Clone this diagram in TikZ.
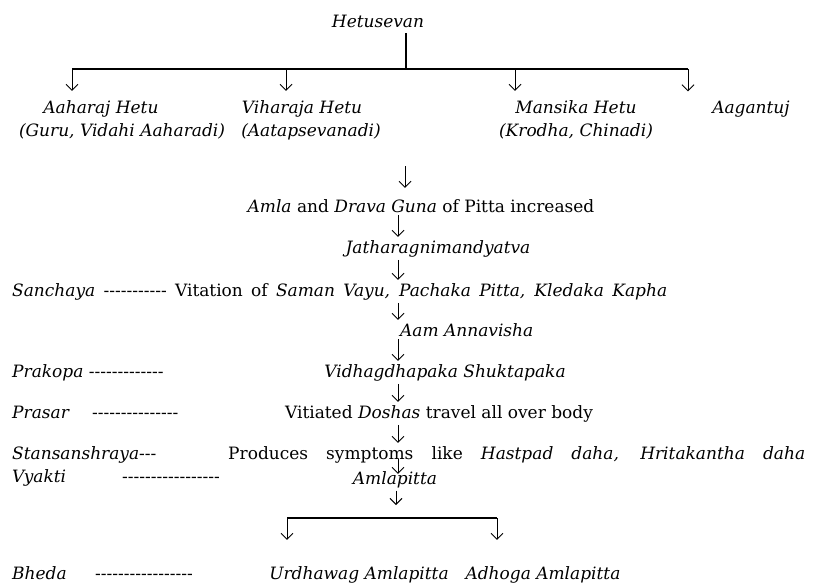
\documentclass[tikz,border=0pt]{standalone}
\usepackage{fontspec}
\setmainfont{DejaVu Serif}[Ligatures=TeXOff]
\usetikzlibrary{arrows.meta}
\tikzset{
  txt/.style={inner sep=0pt, anchor=base, font=\fontsize{17}{20}\selectfont},
  lft/.style={txt, anchor=base west},
  arr/.style={-{Straight Barb[length=6pt,width=12pt]}, line width=0.9pt},
  flow/.style={arr, shorten <=3pt, shorten >=3pt},
  bar/.style={line width=1.1pt}
}
\begin{document}
\begin{tikzpicture}[x=1pt, y=-1pt]
  \useasboundingbox (0,0) rectangle (817,587);

  % causes
  \node[txt] (hetu) at (378,27) {\textit{Hetusevan}};
  \coordinate (top) at (406,69);
  \coordinate (b1) at (72,69);
  \coordinate (b2) at (286,69);
  \coordinate (b3) at (515,69);
  \coordinate (b4) at (688,69);
  \draw[bar, shorten <=6pt] (hetu.south -| top) -- (top);
  \draw[bar] (b1) -- (b4);

  \node[txt] (aahar) at (101,113) {\textit{Aaharaj Hetu}};
  \node[txt] (vihar) at (302,113) {\textit{Viharaja Hetu}};
  \node[txt] (mans) at (576,113) {\textit{Mansika Hetu}};
  \node[txt] (aagan) at (751,113) {\textit{Aagantuj}};
  \node[txt] (guru) at (122,136) {\textit{(Guru, Vidahi Aaharadi)}};
  \node[txt] (aatap) at (311,136) {\textit{(Aatapsevanadi)}};
  \node[txt] (krodh) at (576,136) {\textit{(Krodha, Chinadi)}};

  \draw[arr, shorten >=9pt] (b1) -- (b1 |- aahar.north);
  \draw[arr, shorten >=9pt] (b2) -- (b2 |- vihar.north);
  \draw[arr, shorten >=9pt] (b3) -- (b3 |- mans.north);
  \draw[arr, shorten >=9pt] (b4) -- (b4 |- aagan.north);

  % main chain
  \coordinate (mid) at (398,0);
  \coordinate (c0) at (405,166);
  \node[txt] (amla) at (421,212) {\textit{Amla} and \textit{Drava Guna} of Pitta increased};
  \node[txt] (jath) at (438,253) {\textit{Jatharagnimandyatva}};
  \node[lft] (sanch) at (12,296) {\makebox[655pt][s]{\textit{Sanchaya} ----------- Vitation of \textit{Saman Vayu, Pachaka Pitta, Kledaka Kapha}}};
  \node[lft] (aam) at (400,336) {\textit{Aam Annavisha}};
  \node[lft] (prak) at (12,377) {\textit{Prakopa} -------------};
  \node[txt] (vidh) at (445,377) {\textit{Vidhagdhapaka Shuktapaka}};
  \node[lft] (pras) at (12,418) {\makebox[80pt][l]{\textit{Prasar}}---------------};
  \node[txt] (vit) at (439,418) {Vitiated \textit{Doshas} travel all over body};
  \node[lft] (stans) at (12,459) {\textit{Stansanshraya}---};
  \node[lft] (symp) at (228,459) {\makebox[577pt][s]{Produces symptoms like \textit{Hastpad daha, Hritakantha daha}}};
  \node[lft] (vyak) at (12,482) {\makebox[110pt][l]{\textit{Vyakti}}-----------------};
  \node[txt] (amlap) at (395,484) {\textit{Amlapitta}};

  \draw[arr, shorten >=11pt] (c0) -- (c0 |- amla.north);
  \draw[flow] (amla.south -| mid) -- (jath.north -| mid);
  \draw[flow] (jath.south -| mid) -- (sanch.north -| mid);
  \draw[flow] (sanch.south -| mid) -- (aam.north -| mid);
  \draw[flow] (aam.south -| mid) -- (vidh.north -| mid);
  \draw[flow] (vidh.south -| mid) -- (vit.north -| mid);
  \draw[flow] (vit.south -| mid) -- (symp.north -| mid);
  \draw[arr, shorten >=-3pt] (symp.base -| mid) -- (amlap.north -| mid);

  % types
  \coordinate (fork) at (396,518);
  \coordinate (fl) at (287,518);
  \coordinate (fr) at (497,518);
  \node[lft] (bheda) at (12,579) {\makebox[83pt][l]{\textit{Bheda}}-----------------};
  \node[txt] (urdh) at (359,579) {\textit{Urdhawag Amlapitta}};
  \node[txt] (adho) at (543,579) {\textit{Adhoga Amlapitta}};

  \draw[arr, shorten <=3pt, shorten >=13pt] (amlap.south -| fork) -- (fork);
  \draw[bar] (fl) -- (fr);
  \draw[arr, shorten >=26pt] (fl) -- (fl |- urdh.north);
  \draw[arr, shorten >=26pt] (fr) -- (fr |- adho.north);
\end{tikzpicture}
\end{document}
